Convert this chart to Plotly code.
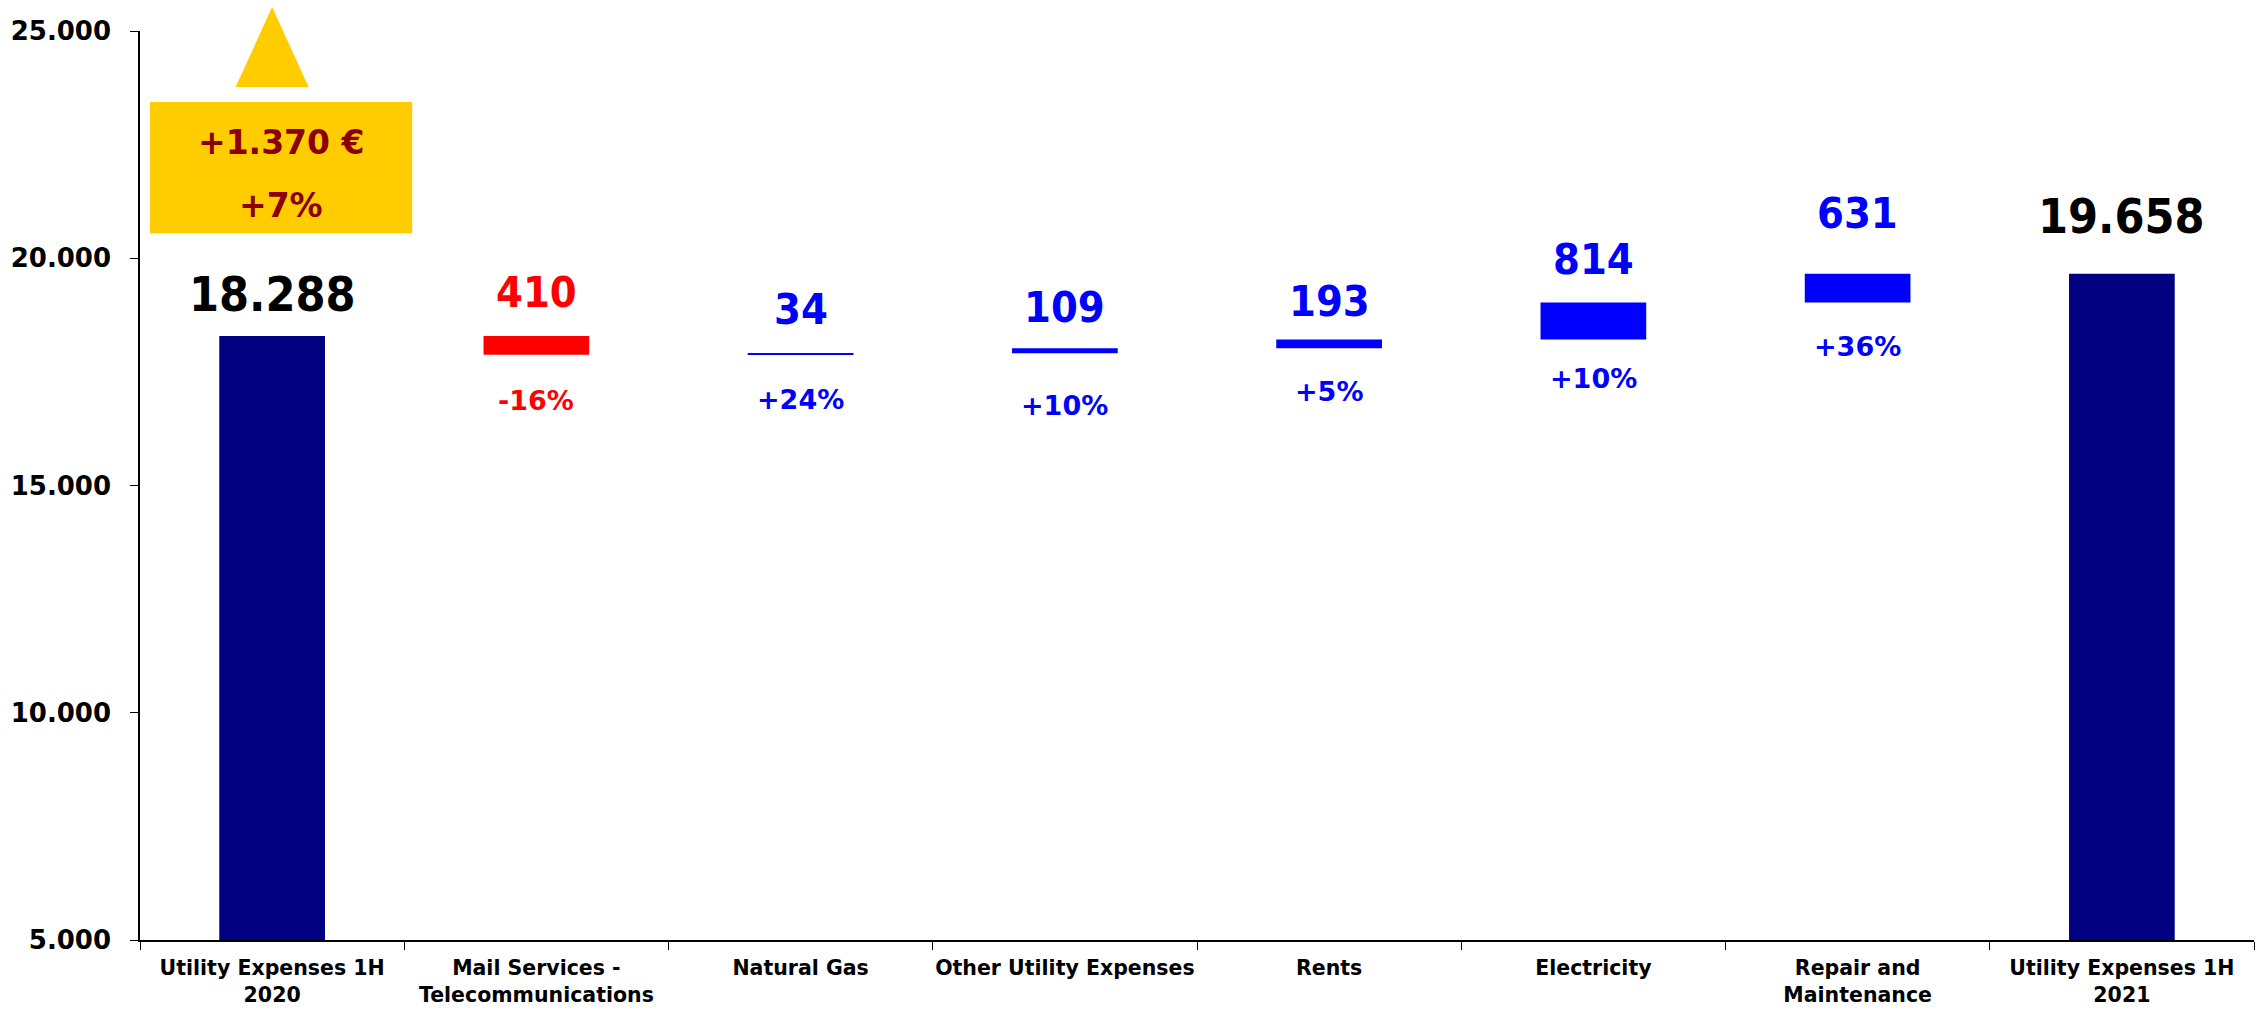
import plotly.graph_objects as go

# ---------------- data ----------------
categories = [
    "Utility Expenses 1H<br>2020",
    "Mail Services -<br>Telecommunications",
    "Natural Gas",
    "Other Utility Expenses",
    "Rents",
    "Electricity",
    "Repair and<br>Maintenance",
    "Utility Expenses 1H<br>2021",
]
start_total = 18288
deltas = [-410, 34, 109, 193, 814, 631]
end_total = 19658
pct_change = [None, -16, 24, 10, 5, 10, 36, None]
y_ticks = [5000, 10000, 15000, 20000, 25000]

# ---------------- styles ----------------
NAVY = "#000080"
BLUE = "#0000FF"
RED = "#FF0000"
GOLD = "#FFCC00"
MAROON = "#8B0000"
COND = "DejaVu Sans Condensed, DejaVu Sans, sans-serif"
REG = "DejaVu Sans, Verdana, sans-serif"

value_shift = [42, 44, 44.5, 41.5, 38, 43.5, 61, 57.5]
pct_shift = [0, 45.5, 44.5, 52, 43.5, 39, 44.5, 0]


def fmt(v):
    return f"{v:,}".replace(",", ".")


# build floating bars
bases, heights, colors, tops, bottoms, labels = [], [], [], [], [], []
bases.append(0); heights.append(start_total); colors.append(NAVY)
tops.append(start_total); bottoms.append(None); labels.append(fmt(start_total))
running = start_total
for d in deltas:
    if d < 0:
        b, h, c = running + d, -d, RED
    else:
        b, h, c = running, d, BLUE
    bases.append(b); heights.append(h); colors.append(c)
    tops.append(b + h); bottoms.append(b); labels.append(fmt(abs(d)))
    running += d
bases.append(0); heights.append(end_total); colors.append(NAVY)
tops.append(end_total); bottoms.append(None); labels.append(fmt(end_total))

fig = go.Figure()
fig.add_trace(go.Bar(
    x=categories, y=heights, base=bases,
    marker=dict(color=colors, line=dict(width=0)),
    width=0.4, hoverinfo="skip", showlegend=False,
))

annotations = []
for i, cat in enumerate(categories):
    is_total = colors[i] == NAVY
    annotations.append(dict(
        x=cat, y=tops[i], xref="x", yref="y", text=labels[i], showarrow=False,
        yanchor="middle", yshift=value_shift[i],
        font=dict(family=COND, size=48 if is_total else 43,
                  color="#000000" if is_total else colors[i], weight="bold"),
    ))
    if pct_change[i] is not None:
        annotations.append(dict(
            x=cat, y=bottoms[i], xref="x", yref="y",
            text=f"{pct_change[i]:+d}%", showarrow=False,
            yanchor="middle", yshift=-pct_shift[i],
            font=dict(family=REG, size=27, color=colors[i], weight="bold"),
        ))

# summary box
diff = end_total - start_total
pct_total = round(diff / start_total * 100)
annotations.append(dict(
    x=0.034, y=22555, xref="x", yref="y", text=f"+{fmt(diff)} €", showarrow=False,
    yanchor="middle", font=dict(family=REG, size=33, color=MAROON, weight="bold"),
))
annotations.append(dict(
    x=0.034, y=21150, xref="x", yref="y", text=f"+{pct_total}%", showarrow=False,
    yanchor="middle", font=dict(family=REG, size=33, color=MAROON, weight="bold"),
))

shapes = [
    dict(type="rect", xref="x", yref="y", x0=-0.462, x1=0.53, y0=20551, y1=23436,
         fillcolor=GOLD, line=dict(width=0), layer="above"),
    dict(type="path", xref="x", yref="paper",
         path="M -0.138,0.9384 L 0,1.0264 L 0.138,0.9384 Z",
         fillcolor=GOLD, line=dict(width=0), layer="above"),
]

fig.update_layout(
    width=2262, height=1011,
    margin=dict(l=140, r=8, t=31, b=71),
    paper_bgcolor="white", plot_bgcolor="white",
    separators=",.",
    bargap=0.6,
    annotations=annotations,
    shapes=shapes,
    xaxis=dict(
        type="category", range=[-0.5, 7.5], automargin=False, tickangle=0,
        showline=True, linecolor="black", linewidth=1.5,
        ticks="outside", tickson="boundaries", ticklen=8, tickcolor="black", tickwidth=1,
        showgrid=False, zeroline=False, ticklabelstandoff=9,
        tickfont=dict(family=REG, size=20.5, color="black", weight="bold"),
    ),
    yaxis=dict(
        range=[5000, 25000], tickvals=y_ticks, tickformat=",d", automargin=False,
        showline=True, linecolor="black", linewidth=1.5,
        ticks="outside", ticklen=8, tickcolor="black", tickwidth=1,
        showgrid=False, zeroline=False, ticklabelstandoff=14,
        tickfont=dict(family=REG, size=26, color="black", weight="bold"),
    ),
)

fig.write_html("out.html")
